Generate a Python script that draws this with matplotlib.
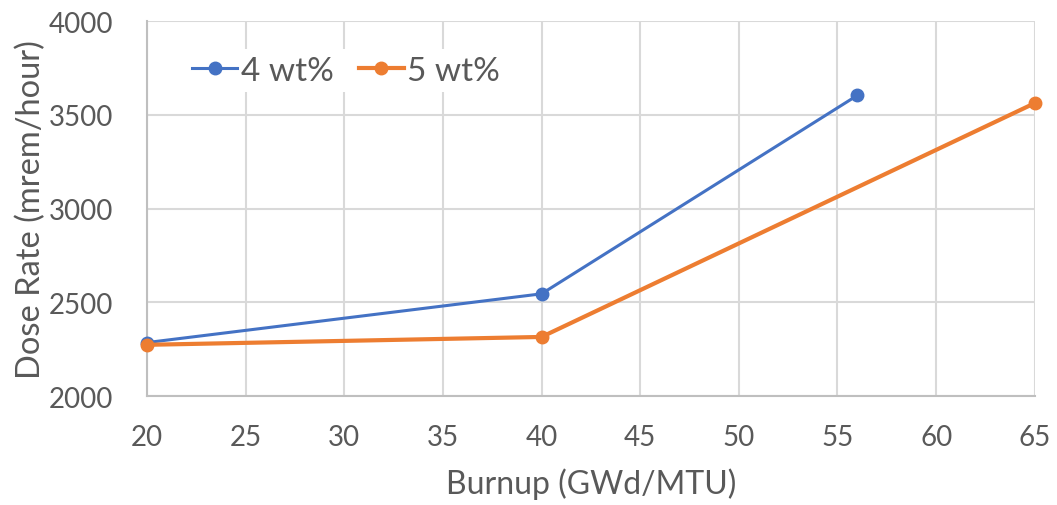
import matplotlib
matplotlib.use("Agg")
import matplotlib.pyplot as plt

plt.rcParams['font.family'] = ['Lato', 'DejaVu Sans']

burnup_4 = [20, 40, 56]
dose_4 = [2285, 2545, 3603]
burnup_5 = [20, 40, 65]
dose_5 = [2273, 2315, 3562]

text_color = "#595959"
grid_color = "#d9d9d9"

fig = plt.figure(figsize=(10.57, 5.06), dpi=100)
ax = fig.add_axes([0.139, 0.2154, 0.840, 0.7411])

ax.plot(burnup_4, dose_4, color="#4472c4", lw=2.2, marker="o", ms=9, label="4 wt%", zorder=3, clip_on=False)
ax.plot(burnup_5, dose_5, color="#ed7d31", lw=3, marker="o", ms=9, label="5 wt%", zorder=3, clip_on=False)

ax.set_xlim(20, 65)
ax.set_ylim(2000, 4000)
ax.set_xticks(range(20, 66, 5))
ax.set_yticks(range(2000, 4001, 500))
ax.grid(True, color=grid_color, lw=1.5)
ax.set_axisbelow(True)

for s in ["top", "right"]:
    ax.spines[s].set_visible(False)
for s in ["left", "bottom"]:
    ax.spines[s].set_color("#bfbfbf")
    ax.spines[s].set_linewidth(1.5)

ax.tick_params(length=0, labelsize=20, colors=text_color)
ax.tick_params(axis="x", pad=20)
ax.tick_params(axis="y", pad=24)
ax.set_xlabel("Burnup (GWd/MTU)", fontsize=23, color=text_color, labelpad=13)
ax.set_ylabel("Dose Rate (mrem/hour)", fontsize=23.5, color=text_color, labelpad=2)

leg = ax.legend(loc="upper left", bbox_to_anchor=(0.025, 0.97), ncol=2, fontsize=24,
                frameon=True, fancybox=False, edgecolor="none", facecolor="white",
                framealpha=1, handlelength=1.35, handletextpad=0.1, columnspacing=0.75,
                borderpad=0.2)
for t in leg.get_texts():
    t.set_color(text_color)

fig.savefig("out.png", dpi=100)
